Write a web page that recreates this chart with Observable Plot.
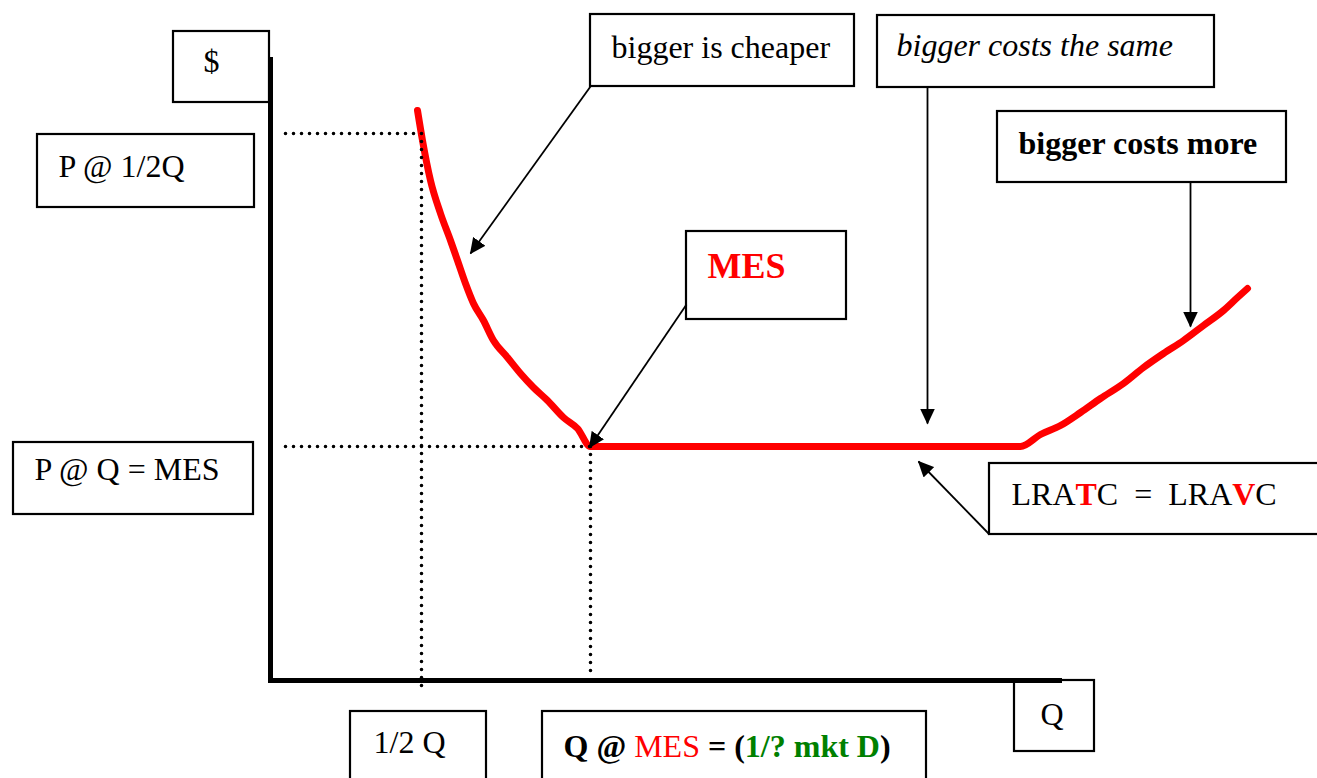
<!DOCTYPE html>
<html>
<head>
<meta charset="utf-8">
<script src="https://cdn.jsdelivr.net/npm/d3@7"></script>
<script src="https://cdn.jsdelivr.net/npm/@observablehq/plot@0.6"></script>
<style>
  body { margin: 0; background: #fff; }
  svg text { white-space: pre; }
</style>
</head>
<body>
<div id="chart"></div>
<script>
// Long-run average total cost curve (Q, $) in diagram units
const costQ = [147, 152, 160, 170, 180, 187, 195, 203, 213, 223, 237, 250, 263, 277, 293, 307, 320, 750, 770, 790, 810, 830, 853, 873, 893, 913, 933, 953, 967, 977];
const costP = [570, 540, 500, 467, 440, 420, 397, 377, 360, 340, 323, 307, 293, 280, 263, 252, 234, 234, 246, 255, 268, 282, 297, 313, 327, 340, 355, 370, 383, 392];

// Reference levels
const halfQ = 151, mesQ = 320, priceHalf = 547, priceMES = 234;
const axisTopP = 623, axisEndQ = 792;

// Label boxes
const boxes = [
  {q1: -97, q2: -1, p1: 649, p2: 578},     // $
  {q1: -233, q2: -16, p1: 546, p2: 473},   // P @ 1/2Q
  {q1: -257, q2: -17, p1: 238, p2: 166},   // P @ Q = MES
  {q1: 320, q2: 584, p1: 666, p2: 594},    // bigger is cheaper
  {q1: 607, q2: 944, p1: 665, p2: 593},    // bigger costs the same
  {q1: 727, q2: 1016, p1: 569, p2: 498},   // bigger costs more
  {q1: 416, q2: 576, p1: 449, p2: 361},    // MES
  {q1: 719, q2: 1065, p1: 217, p2: 146},   // LRATC = LRAVC
  {q1: 80, q2: 216, p1: -31, p2: -125},    // 1/2 Q
  {q1: 272, q2: 656, p1: -31, p2: -125},   // Q @ MES
  {q1: 744, q2: 824, p1: 0, p2: -71}       // Q
];

// Label texts: segments [text, color, weight, style]
const labels = [
  {q: -67, p: 609, size: 32, segs: [["$", "black", "normal", "normal"]]},
  {q: -212, p: 504, size: 32, segs: [["P @ 1/2Q", "black", "normal", "normal"]]},
  {q: -236, p: 201, size: 32, segs: [["P @ Q = MES", "black", "normal", "normal"]]},
  {q: 341, p: 623, size: 32, segs: [["bigger is cheaper", "black", "normal", "normal"]]},
  {q: 626, p: 625, size: 32, segs: [["bigger costs the same", "black", "normal", "italic"]]},
  {q: 748, p: 527, size: 32, segs: [["bigger costs more", "black", "bold", "normal"]]},
  {q: 437, p: 403, size: 36, segs: [["MES", "#ff0000", "bold", "normal"]]},
  {q: 741, p: 176, size: 32, segs: [["LRA", "black", "normal", "normal"], ["T", "#ff0000", "bold", "normal"], ["C  =  LRA", "black", "normal", "normal"], ["V", "#ff0000", "bold", "normal"], ["C", "black", "normal", "normal"]]},
  {q: 103, p: -72, size: 32, segs: [["1/2 Q", "black", "normal", "normal"]]},
  {q: 293, p: -76, size: 32, segs: [["Q @", "black", "bold", "normal"], [" MES", "#ff0000", "normal", "normal"], [" = (", "black", "bold", "normal"], ["1/? mkt D", "#008000", "bold", "normal"], [")", "black", "bold", "normal"]]},
  {q: 770, p: -44, size: 32, segs: [["Q", "black", "normal", "normal"]]}
];

// Arrows from boxes to the curve
const arrows = [
  {q1: 320, p1: 594, q2: 200, p2: 427},
  {q1: 416, p1: 376, q2: 319, p2: 233},
  {q1: 657, p1: 593, q2: 657, p2: 257},
  {q1: 920, p1: 498, q2: 920, p2: 354},
  {q1: 719, p1: 146, q2: 648, p2: 219}
];

const curve = costQ.map((q, i) => ({q, p: costP[i]}));
const dotted = [
  {q1: 15, p1: priceHalf, q2: halfQ, p2: priceHalf},
  {q1: halfQ, p1: priceHalf, q2: halfQ, p2: -10},
  {q1: 15, p1: priceMES, q2: mesQ, p2: priceMES},
  {q1: mesQ, p1: priceMES, q2: mesQ, p2: 8}
];

const chart = Plot.plot({
  width: 1317,
  height: 778,
  margin: 0,
  x: {domain: [-270, 1047], axis: null},
  y: {domain: [-98, 680], axis: null},
  style: {background: "white", fontFamily: "Liberation Serif"},
  marks: [
    Plot.rect(boxes, {x1: "q1", x2: "q2", y1: "p1", y2: "p2", fill: "white", stroke: "black", strokeWidth: 2.2}),
    Plot.ruleX([0], {y1: -2, y2: axisTopP, stroke: "black", strokeWidth: 5}),
    Plot.ruleY([0], {x1: -2, x2: axisEndQ, stroke: "black", strokeWidth: 5}),
    Plot.line(curve, {x: "q", y: "p", stroke: "#ff0000", strokeWidth: 7, curve: "monotone-x", strokeLinecap: "round", strokeLinejoin: "round"}),
    Plot.link(dotted, {x1: "q1", y1: "p1", x2: "q2", y2: "p2", stroke: "black", strokeWidth: 3.6, strokeDasharray: "0 8", strokeLinecap: "round"}),
    Plot.link(arrows, {x1: "q1", y1: "p1", x2: "q2", y2: "p2", stroke: "black", strokeWidth: 1.8, ariaDescription: "arrows"}),
    Plot.text(labels, {x: "q", y: "p", text: d => d.segs.map(s => s[0]).join(""), fontSize: "size", textAnchor: "start", lineAnchor: "bottom", fill: "black", fontFamily: "Liberation Serif", ariaDescription: "labels"})
  ]
});

document.getElementById("chart").appendChild(chart);

// Filled triangle arrowheads
const svg = d3.select(chart);
const defs = svg.insert("defs", ":first-child");
defs.append("marker")
  .attr("id", "tri")
  .attr("viewBox", "0 0 16 15")
  .attr("refX", 15).attr("refY", 7.5)
  .attr("markerWidth", 16).attr("markerHeight", 15)
  .attr("markerUnits", "userSpaceOnUse")
  .attr("orient", "auto")
  .append("path").attr("d", "M0,0L16,7.5L0,15Z").attr("fill", "black");
svg.selectAll('g[aria-description="arrows"] path').attr("marker-end", "url(#tri)");

// Mixed-style label text
svg.selectAll('g[aria-description="labels"] text').each(function(d, i) {
  const el = d3.select(this);
  el.text(null);
  labels[i].segs.forEach(([t, color, weight, style]) => {
    el.append("tspan").attr("fill", color).attr("font-weight", weight).attr("font-style", style).text(t);
  });
});
</script>
</body>
</html>
